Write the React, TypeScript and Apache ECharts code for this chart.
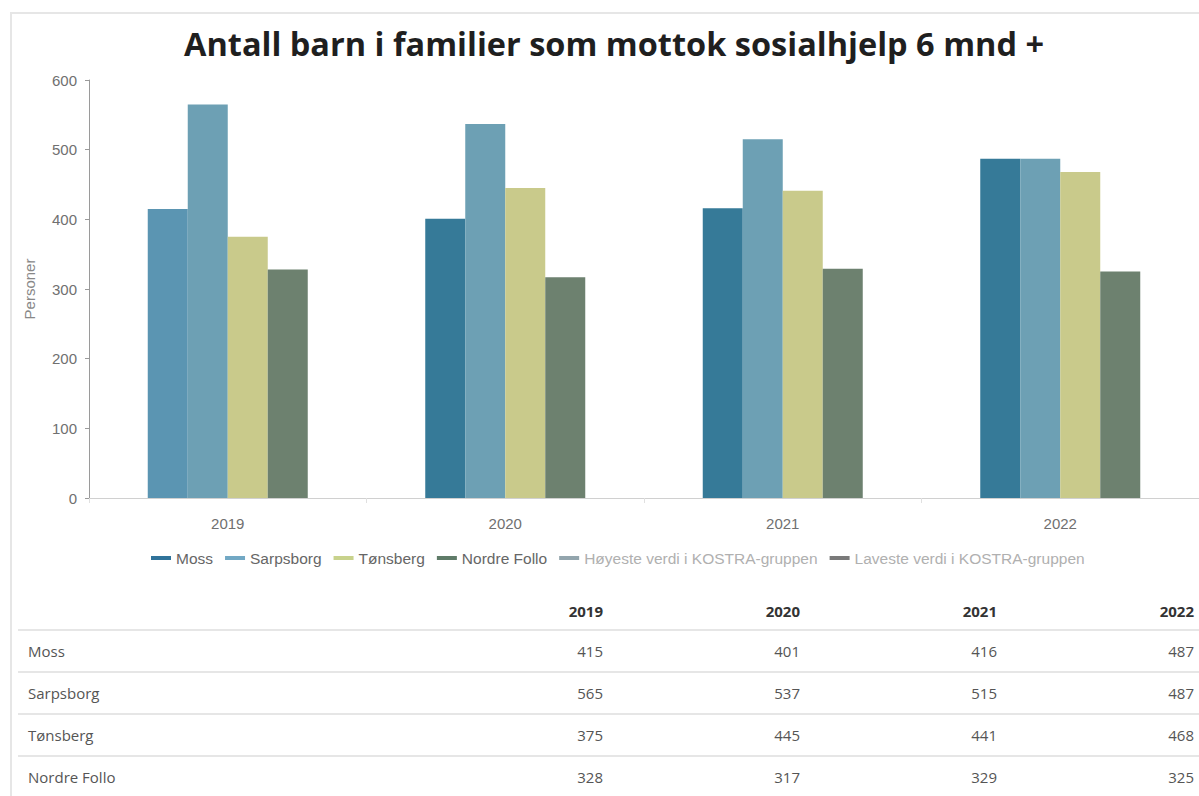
import React, { useEffect, useRef } from "react";
import * as echarts from "echarts";

const categories = ["2019", "2020", "2021", "2022"];
const seriesNames = ["Moss", "Sarpsborg", "Tønsberg", "Nordre Follo"];
const moss = [415, 401, 416, 487];
const sarpsborg = [565, 537, 515, 487];
const tonsberg = [375, 445, 441, 468];
const nordreFollo = [328, 317, 329, 325];
const extraLegend = ["Høyeste verdi i KOSTRA-gruppen", "Laveste verdi i KOSTRA-gruppen"];
const yTicks = [0, 100, 200, 300, 400, 500, 600];

const allValues = [moss, sarpsborg, tonsberg, nordreFollo];
const barColors = ["#367a98", "#6da0b4", "#c9ca8b", "#6d816f"];
const legendIconColors = ["#30739a", "#72a8c4", "#c8d28c", "#5f7b68", "#93a5ad", "#7a7a7a"];

export default function App() {
  const ref = useRef<HTMLDivElement>(null);
  useEffect(() => {
    if (!ref.current) return;
    const chart = echarts.init(ref.current, undefined, { renderer: "svg" });
    const barSeries = seriesNames.map((name, i) => ({
      name,
      type: "bar",
      barWidth: 40,
      barGap: "0%",
      itemStyle: { color: barColors[i] },
      data: allValues[i].map((v, j) =>
        i === 0 && j === 0 ? { value: v, itemStyle: { color: "#5b95b2" } } : v
      ),
    }));
    const lineSeries = extraLegend.map((name, k) => ({
      name,
      type: "line",
      data: [],
      itemStyle: { color: legendIconColors[4 + k] },
      lineStyle: { color: legendIconColors[4 + k] },
    }));
    chart.setOption({
      animation: false,
      title: {
        text: "Antall barn i familier som mottok sosialhjelp 6 mnd +",
        left: 179,
        top: 22,
        textStyle: {
          fontFamily: "Open Sans",
          fontWeight: "bold",
          fontSize: 32.5,
          color: "#1f1f1f",
        },
      },
      legend: {
        top: 545,
        left: 146,
        icon: "rect",
        itemWidth: 20,
        itemHeight: 4,
        itemGap: 12,
        textStyle: { fontFamily: "Liberation Sans", fontSize: 15.5, color: "#666" },
        data: [
          ...seriesNames.map((n, i) => ({
            name: n,
            itemStyle: { color: legendIconColors[i] },
          })),
          ...extraLegend.map((n, k) => ({
            name: n,
            itemStyle: { color: legendIconColors[4 + k] },
            textStyle: { color: "#b0b0b0" },
          })),
        ],
      },
      grid: { left: 89, width: 1116, top: 80, height: 418 },
      xAxis: {
        type: "category",
        data: categories,
        axisLine: { lineStyle: { color: "#d0d0d0", width: 1 } },
        axisTick: { show: true, length: 5, lineStyle: { color: "#e0e0e0" } },
        axisLabel: {
          margin: 18,
          fontFamily: "Liberation Sans",
          fontSize: 15,
          color: "#707070",
        },
      },
      yAxis: {
        type: "value",
        min: 0,
        max: 600,
        interval: 100,
        name: "Personer",
        nameLocation: "middle",
        nameGap: 52,
        nameTextStyle: { fontFamily: "Liberation Sans", fontSize: 15, color: "#888" },
        axisLine: { show: true, lineStyle: { color: "#9a9a9a" } },
        axisTick: { show: true, length: 4, lineStyle: { color: "#9a9a9a" } },
        splitLine: { show: false },
        axisLabel: {
          margin: 12,
          fontFamily: "Liberation Sans",
          fontSize: 15,
          color: "#707070",
          formatter: (v: number) => (yTicks.includes(v) ? String(v) : ""),
        },
      },
      series: [...barSeries, ...lineSeries],
    });
    return () => chart.dispose();
  }, []);

  const cellBase: React.CSSProperties = {
    fontFamily: "Open Sans",
    fontSize: 15,
    color: "#555",
    height: 40,
    padding: 0,
    borderBottom: "2px solid #e6e6e6",
  };

  return (
    <div
      style={{
        position: "fixed",
        left: 0,
        top: 0,
        width: 1199,
        height: 796,
        overflow: "hidden",
        background: "#fff",
      }}
    >
      <div
        style={{
          position: "absolute",
          left: 10,
          top: 12,
          width: 1300,
          height: 900,
          borderLeft: "2px solid #e6e6e6",
          borderTop: "2px solid #e6e6e6",
        }}
      />
      <div
        ref={ref}
        style={{ position: "absolute", left: 0, top: 0, width: 1199, height: 590 }}
      />
      <table
        style={{
          position: "absolute",
          left: 18,
          top: 592,
          width: 1190,
          borderCollapse: "collapse",
          tableLayout: "fixed",
        }}
      >
        <colgroup>
          <col style={{ width: 388 }} />
          <col style={{ width: 197 }} />
          <col style={{ width: 197 }} />
          <col style={{ width: 197 }} />
          <col style={{ width: 211 }} />
        </colgroup>
        <thead>
          <tr>
            <th style={{ ...cellBase, height: 37 }}></th>
            {categories.map((c, j) => (
              <th
                key={c}
                style={{
                  ...cellBase,
                  height: 37,
                  textAlign: "right",
                  fontWeight: "bold",
                  color: "#333",
                  paddingRight: j === 3 ? 14 : 0,
                }}
              >
                {c}
              </th>
            ))}
          </tr>
        </thead>
        <tbody>
          {seriesNames.map((n, i) => (
            <tr key={n}>
              <td style={{ ...cellBase, paddingLeft: 10 }}>{n}</td>
              {allValues[i].map((v, j) => (
                <td
                  key={j}
                  style={{ ...cellBase, textAlign: "right", paddingRight: j === 3 ? 14 : 0 }}
                >
                  {v}
                </td>
              ))}
            </tr>
          ))}
        </tbody>
      </table>
    </div>
  );
}
